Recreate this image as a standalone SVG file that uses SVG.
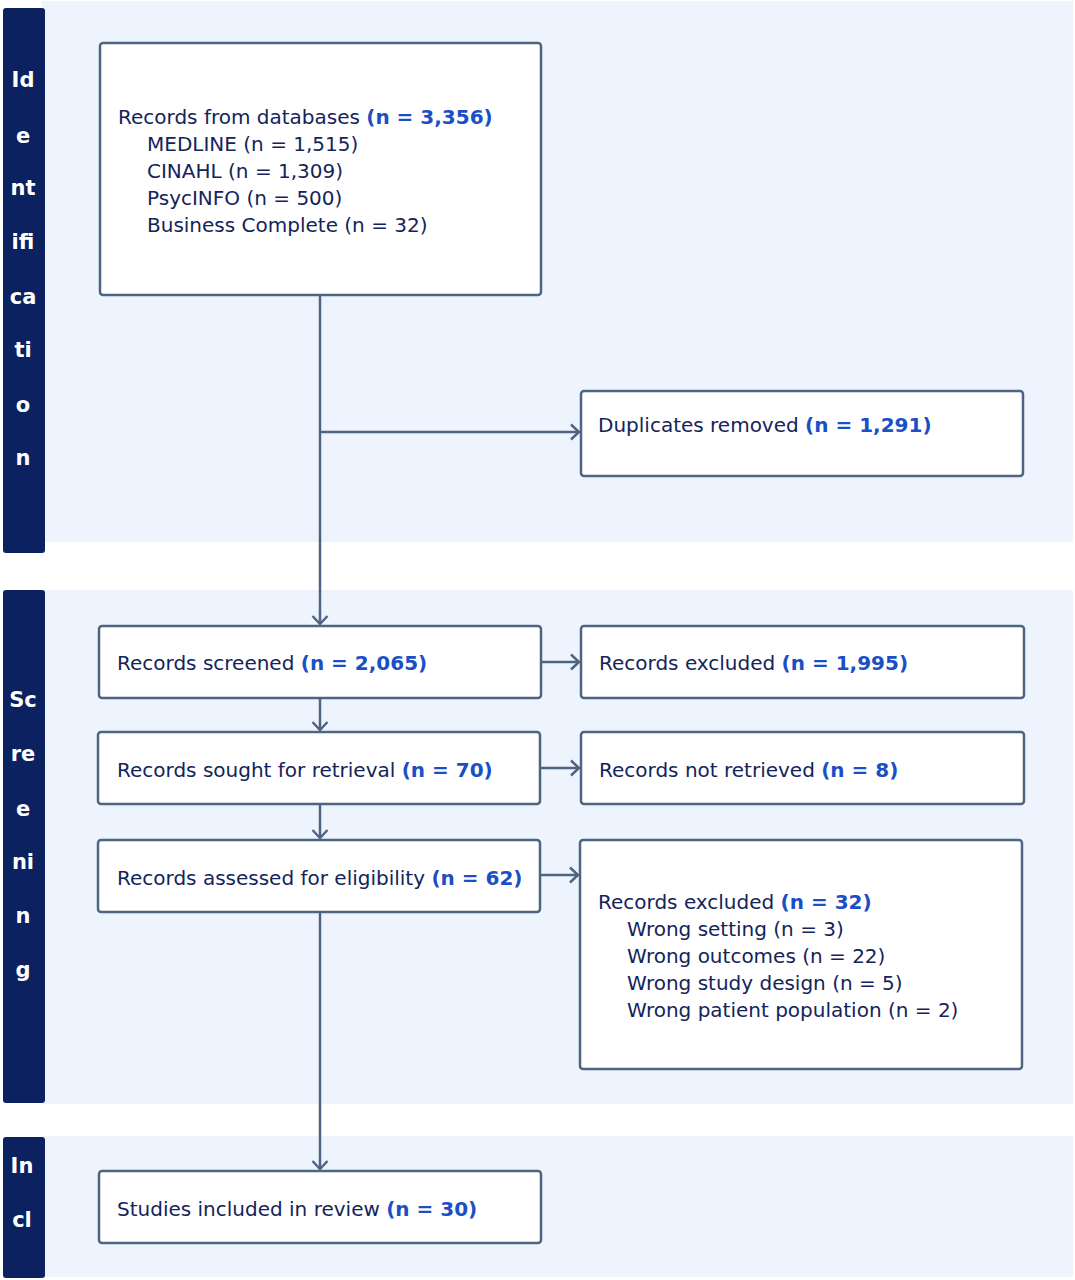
<svg xmlns="http://www.w3.org/2000/svg" width="1075" height="1280" viewBox="0 0 1075 1280">
<style>
.band{fill:#eef4fd}
.side{fill:#0b2160}
.sl{font-family:"DejaVu Sans",Verdana,sans-serif;font-size:21px;font-weight:bold;fill:#ffffff;text-anchor:middle}
.box{fill:#ffffff;stroke:#4f6482;stroke-width:2.5}
.t{font-family:"DejaVu Sans",Verdana,sans-serif;font-size:20px;fill:#14245a}
.b{font-weight:bold;fill:#1a4fc6}
.c{fill:none;stroke:#4f6482;stroke-width:2.5}
</style>
<defs>
<marker id="ah" markerWidth="16" markerHeight="18" refX="11" refY="9" orient="auto" markerUnits="userSpaceOnUse">
<path d="M3,1.5 L11,9 L3,16.5" fill="none" stroke="#4f6482" stroke-width="2.5"/>
</marker>
</defs>
<rect width="1075" height="1280" fill="#ffffff"/>
<g id="bands">
<rect class="band" x="42" y="1" width="1031" height="541"/>
<rect class="band" x="42" y="590" width="1031" height="514"/>
<rect class="band" x="42" y="1136" width="1031" height="141"/>
<rect class="side" x="3" y="8" width="42" height="545" rx="3"/>
<rect class="side" x="3" y="590" width="42" height="513" rx="3"/>
<rect class="side" x="3" y="1137" width="42" height="141" rx="3"/>
<g class="sl">
<text x="23" y="87">Id</text><text x="23" y="143">e</text><text x="23" y="195">nt</text><text x="23" y="249">ifi</text><text x="23" y="304">ca</text><text x="23" y="357">ti</text><text x="23" y="412">o</text><text x="23" y="465">n</text>
<text x="23" y="707">Sc</text><text x="23" y="761">re</text><text x="23" y="816">e</text><text x="23" y="869">ni</text><text x="23" y="923">n</text><text x="23" y="977">g</text>
<text x="22" y="1173">In</text><text x="22" y="1227">cl</text>
</g>
</g>
<g id="connectors">
<line class="c" x1="320" y1="295" x2="320" y2="624" marker-end="url(#ah)"/>
<line class="c" x1="320" y1="432" x2="579" y2="432" marker-end="url(#ah)"/>
<line class="c" x1="541" y1="662" x2="579" y2="662" marker-end="url(#ah)"/>
<line class="c" x1="540" y1="768" x2="579" y2="768" marker-end="url(#ah)"/>
<line class="c" x1="540" y1="875" x2="578" y2="875" marker-end="url(#ah)"/>
<line class="c" x1="320" y1="698" x2="320" y2="730" marker-end="url(#ah)"/>
<line class="c" x1="320" y1="804" x2="320" y2="838" marker-end="url(#ah)"/>
<line class="c" x1="320" y1="912" x2="320" y2="1169" marker-end="url(#ah)"/>
</g>
<g id="n-databases">
<rect class="box" x="100" y="43" width="441" height="252" rx="3"/>
<text class="t" x="118" y="124">Records from databases <tspan class="b">(n = 3,356)</tspan></text>
<text class="t" x="147" y="151">MEDLINE (n = 1,515)</text>
<text class="t" x="147" y="178">CINAHL (n = 1,309)</text>
<text class="t" x="147" y="205">PsycINFO (n = 500)</text>
<text class="t" x="147" y="232">Business Complete (n = 32)</text>
</g>
<g id="n-duplicates">
<rect class="box" x="581" y="391" width="442" height="85" rx="3"/>
<text class="t" x="598" y="432">Duplicates removed <tspan class="b">(n = 1,291)</tspan></text>
</g>
<g id="n-screened">
<rect class="box" x="99" y="626" width="442" height="72" rx="3"/>
<text class="t" x="117" y="670">Records screened <tspan class="b">(n = 2,065)</tspan></text>
</g>
<g id="n-excluded1">
<rect class="box" x="581" y="626" width="443" height="72" rx="3"/>
<text class="t" x="599" y="670">Records excluded <tspan class="b">(n = 1,995)</tspan></text>
</g>
<g id="n-sought">
<rect class="box" x="98" y="732" width="442" height="72" rx="3"/>
<text class="t" x="117" y="777">Records sought for retrieval <tspan class="b">(n = 70)</tspan></text>
</g>
<g id="n-notretrieved">
<rect class="box" x="581" y="732" width="443" height="72" rx="3"/>
<text class="t" x="599" y="777">Records not retrieved <tspan class="b">(n = 8)</tspan></text>
</g>
<g id="n-assessed">
<rect class="box" x="98" y="840" width="442" height="72" rx="3"/>
<text class="t" x="117" y="885">Records assessed for eligibility <tspan class="b">(n = 62)</tspan></text>
</g>
<g id="n-excluded2">
<rect class="box" x="580" y="840" width="442" height="229" rx="3"/>
<text class="t" x="598" y="909">Records excluded <tspan class="b">(n = 32)</tspan></text>
<text class="t" x="627" y="936">Wrong setting (n = 3)</text>
<text class="t" x="627" y="963">Wrong outcomes (n = 22)</text>
<text class="t" x="627" y="990">Wrong study design (n = 5)</text>
<text class="t" x="627" y="1017">Wrong patient population (n = 2)</text>
</g>
<g id="n-included">
<rect class="box" x="99" y="1171" width="442" height="72" rx="3"/>
<text class="t" x="117" y="1216">Studies included in review <tspan class="b">(n = 30)</tspan></text>
</g>
</svg>
